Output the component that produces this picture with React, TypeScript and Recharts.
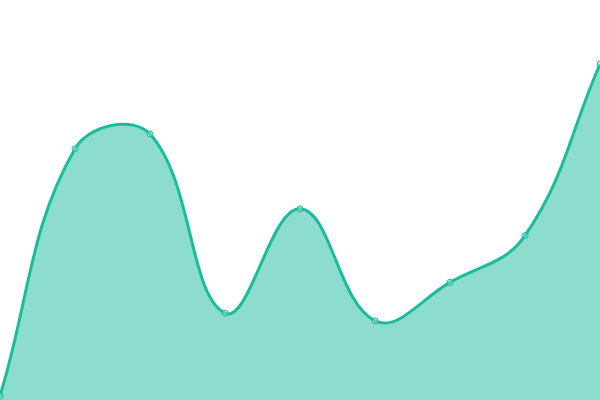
import React from 'react';
import { Area, AreaChart, XAxis, YAxis } from 'recharts';

const labels = ['A', 'B', 'C', 'D', 'E', 'F', 'G', 'H', 'I'];
const values = [1, 62.8, 66.5, 21.7, 47.8, 19.8, 29.4, 41.1, 84];

const data = labels.map((name, i) => ({ name, value: values[i] }));

// spline with distance-weighted control points (tension 0.4), d3 curve interface
function splineCurve(tension: number) {
  return (context: any) => {
    let xs: number[] = [];
    let ys: number[] = [];
    let line = NaN;
    return {
      areaStart() { line = 0; },
      areaEnd() { line = NaN; },
      lineStart() { xs = []; ys = []; },
      point(x: number, y: number) { xs.push(+x); ys.push(+y); },
      lineEnd() {
        const n = xs.length;
        if (n) {
          if (line) context.lineTo(xs[0], ys[0]);
          else context.moveTo(xs[0], ys[0]);
          const inX: number[] = [], inY: number[] = [], outX: number[] = [], outY: number[] = [];
          for (let i = 0; i < n; i++) {
            const px = xs[Math.max(i - 1, 0)], py = ys[Math.max(i - 1, 0)];
            const nx = xs[Math.min(i + 1, n - 1)], ny = ys[Math.min(i + 1, n - 1)];
            const d01 = Math.hypot(xs[i] - px, ys[i] - py);
            const d12 = Math.hypot(nx - xs[i], ny - ys[i]);
            const tot = d01 + d12;
            const s01 = tot ? d01 / tot : 0;
            const s12 = tot ? d12 / tot : 0;
            const fa = tension * s01;
            const fb = tension * s12;
            inX[i] = xs[i] - fa * (nx - px);
            inY[i] = ys[i] - fa * (ny - py);
            outX[i] = xs[i] + fb * (nx - px);
            outY[i] = ys[i] + fb * (ny - py);
          }
          for (let i = 0; i < n - 1; i++) {
            context.bezierCurveTo(outX[i], outY[i], inX[i + 1], inY[i + 1], xs[i + 1], ys[i + 1]);
          }
        }
        if (line || (line !== 0 && n === 1)) context.closePath();
        line = 1 - line;
      },
    };
  };
}

const curve = splineCurve(0.4);

export default function App() {
  return (
    <div style={{ position: 'fixed', top: 0, left: 0, width: 600, height: 400, background: '#fff' }}>
      <AreaChart width={600} height={400} data={data} margin={{ top: 0, right: 0, bottom: 0, left: 0 }}>
        <XAxis dataKey="name" hide />
        <YAxis hide domain={[0, 100]} />
        <Area
          type={curve as any}
          dataKey="value"
          stroke="#1abc9c"
          strokeWidth={3}
          fill="#1abc9c"
          fillOpacity={0.5}
          dot={{ r: 3, fill: '#8ae0cf', stroke: '#1abc9c', strokeWidth: 1 }}
          activeDot={false}
          isAnimationActive={false}
        />
      </AreaChart>
    </div>
  );
}
